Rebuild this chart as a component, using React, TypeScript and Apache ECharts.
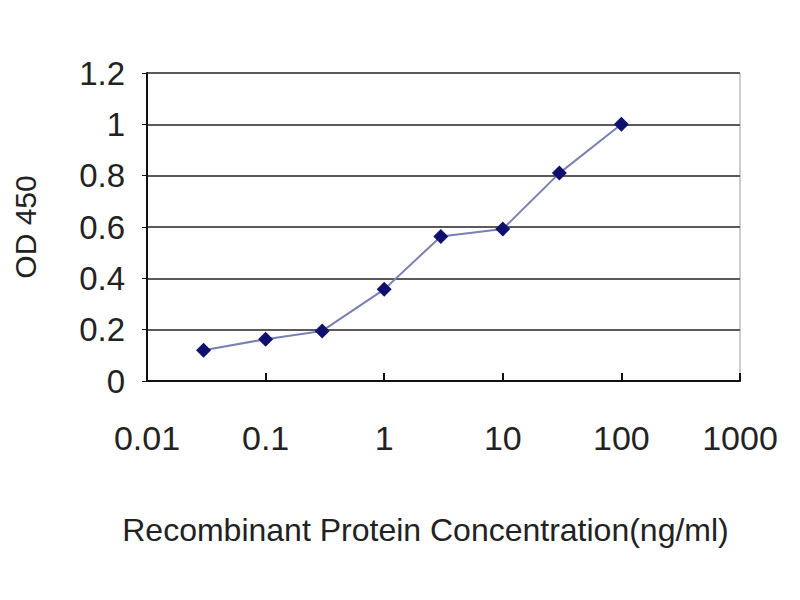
import React, { useEffect, useRef } from "react";
import * as echarts from "echarts";

const concentrations = [0.03, 0.1, 0.3, 1, 3, 10, 30, 100];
const odValues = [0.12, 0.163, 0.195, 0.357, 0.563, 0.592, 0.81, 1.0];
const xTickLabels: Record<string, string> = {
  "-2": "0.01",
  "-1": "0.1",
  "0": "1",
  "1": "10",
  "2": "100",
  "3": "1000",
};
const xAxisTitle = "Recombinant Protein Concentration(ng/ml)";
const yAxisTitle = "OD 450";

export default function App() {
  const ref = useRef<HTMLDivElement>(null);
  useEffect(() => {
    if (!ref.current) return;
    const chart = echarts.init(ref.current, undefined, { renderer: "svg" });
    const font = "'Liberation Sans', Arial, sans-serif";
    chart.setOption({
      animation: false,
      backgroundColor: "#ffffff",
      grid: {
        left: 147,
        right: 60,
        top: 73,
        bottom: 219,
        show: true,
        borderColor: "#9a9a9a",
        borderWidth: 1,
      },
      xAxis: {
        type: "log",
        logBase: 10,
        min: 0.01,
        max: 1000,
        name: xAxisTitle,
        nameLocation: "middle",
        nameGap: 133,
        nameTextStyle: { fontFamily: font, fontSize: 32, color: "#222", padding: [0, 36, 0, 0] },
        axisLine: { show: true, lineStyle: { color: "#111", width: 2 } },
        axisTick: { show: true, inside: true, length: 8, lineStyle: { color: "#111", width: 2 } },
        splitLine: { show: false },
        minorTick: { show: false },
        axisLabel: {
          fontFamily: font,
          fontSize: 34,
          color: "#222",
          margin: 40,
          formatter: (v: number) => {
            const k = String(Math.round(Math.log10(v)));
            return xTickLabels[k] ?? String(v);
          },
        },
      },
      yAxis: {
        type: "value",
        min: 0,
        max: 1.2,
        interval: 0.2,
        name: yAxisTitle,
        nameLocation: "middle",
        nameGap: 107,
        nameRotate: 90,
        nameTextStyle: { fontFamily: font, fontSize: 30, color: "#222" },
        axisLine: { show: true, lineStyle: { color: "#111", width: 2 } },
        axisTick: { show: true, length: 5, lineStyle: { color: "#111", width: 1 } },
        splitLine: { show: true, lineStyle: { color: "#5a5a5a", width: 2 } },
        axisLabel: {
          fontFamily: font,
          fontSize: 33,
          color: "#222",
          margin: 22,
          formatter: (v: number) => String(Math.round(v * 10) / 10),
        },
      },
      series: [
        {
          type: "line",
          data: concentrations.map((c, i) => [c, odValues[i]]),
          symbol: "diamond",
          symbolSize: 15,
          itemStyle: { color: "#10106e" },
          lineStyle: { color: "#7b80b4", width: 2 },
        },
      ],
    });
    return () => chart.dispose();
  }, []);
  return <div ref={ref} style={{ width: 800, height: 600, margin: -8 }} />;
}
